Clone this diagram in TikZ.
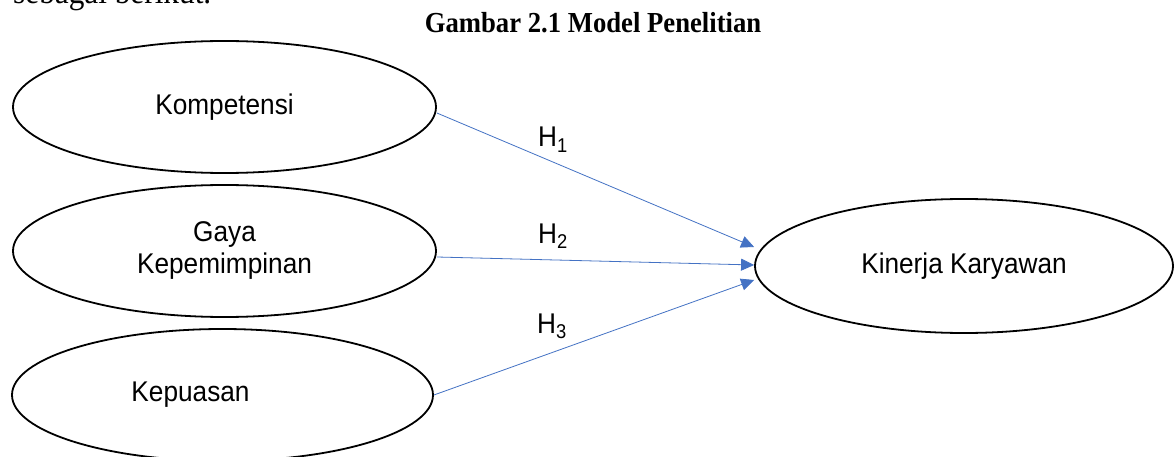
\documentclass[tikz,border=0pt]{standalone}
\usepackage{fontspec}
\setmainfont{Liberation Sans}[FakeStretch=0.92]
\newfontfamily\serifface{Liberation Serif}[FakeStretch=0.92]
\usetikzlibrary{shapes.geometric,arrows.meta}
\definecolor{linkblue}{HTML}{4472C4}

\begin{document}
\begin{tikzpicture}[x=1pt,y=-1pt,
  construct/.style={draw=black, line width=1.8pt, ellipse, inner sep=0pt,
    align=center, minimum width=423pt, minimum height=132pt,
    font=\fontsize{28.5}{32}\selectfont},
  hypo/.style={draw=linkblue, line width=0.8pt,
    -{Triangle[length=13pt,width=12pt]}},
  hlabel/.style={anchor=base west, inner sep=0pt,
    font=\fontsize{28.5}{32}\selectfont}]

\useasboundingbox (0,0) rectangle (1174,457);
\fill[white] (0,0) rectangle (1174,457);

% running text and caption
\node[anchor=base west, inner sep=0pt, font=\serifface\fontsize{34}{36}\selectfont]
  (lead) at (13,4) {sebagai berikut.};
\node[anchor=base, inner sep=0pt, font=\serifface\bfseries\fontsize{29}{32}\selectfont]
  (title) at (593,33) {Gambar 2.1 Model Penelitian};

% independent variables
\node[construct] (komp) at (224.5,107) {Kompetensi};
\node[construct] (gaya) at (224.5,251) {Gaya\\Kepemimpinan};
\node[construct, minimum width=421pt] (kepu) at (222.5,395) {Kepuasan\hspace*{64pt}};

% dependent variable
\node[construct, minimum width=418pt, minimum height=134pt] (kin) at (964,266) {Kinerja Karyawan};

% hypotheses
\draw[hypo] ([yshift=-6pt]komp.east) -- ([yshift=19pt]kin.west);
\draw[hypo] ([yshift=-6pt]gaya.east) -- ([yshift=1pt]kin.west);
\draw[hypo] (kepu.east) -- ([yshift=-14pt]kin.west);

\node[hlabel] (h1) at (538,147) {H\textsubscript{1}};
\node[hlabel] (h2) at (538,243) {H\textsubscript{2}};
\node[hlabel] (h3) at (537,333) {H\textsubscript{3}};
\end{tikzpicture}
\end{document}
